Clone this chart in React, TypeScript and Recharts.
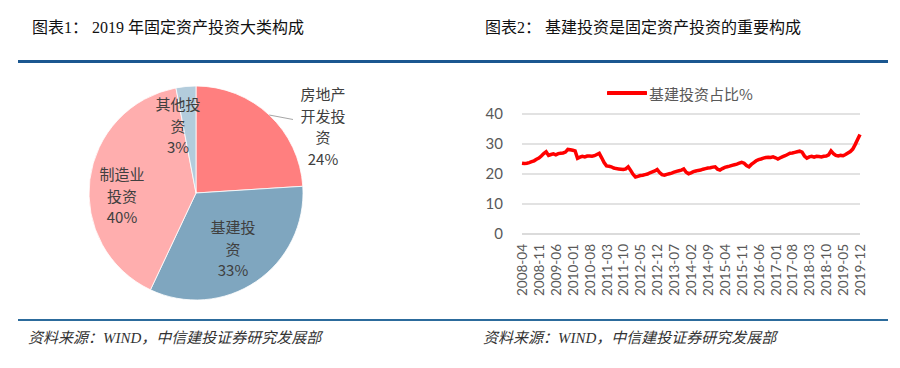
import * as React from "react";
import { PieChart, Pie, Cell, LineChart, Line, XAxis, YAxis, CartesianGrid, Legend } from "recharts";

// 图表1 数据
const pieNames = ["房地产开发投资", "基建投资", "制造业投资", "其他投资"];
const pieValues = [24, 33, 40, 3];
const pieLabelLines = [["房地产", "开发投", "资"], ["基建投", "资"], ["制造业", "投资"], ["其他投", "资"]];
const pieColors = ["#FF7F7F", "#7FA6BF", "#FFAEAE", "#B3CCDC"];

// 图表2 数据 (2008-04 ~ 2019-12, 月度)
const startYear = 2008;
const startMonth = 4;
const infraShare = [
  23.6, 23.5, 23.6, 23.8, 24.1, 24.4, 24.9, 25.3, 26.0, 26.8,
  27.4, 26.2, 26.5, 26.7, 26.4, 26.8, 26.9, 27.0, 27.3, 28.2,
  28.1, 27.9, 27.7, 25.2, 25.6, 25.9, 25.7, 26.0, 26.0, 25.9,
  26.1, 26.5, 26.9, 25.4, 23.8, 22.7, 22.6, 22.4, 22.0, 21.8,
  21.7, 21.6, 21.5, 21.7, 22.4, 21.2, 19.9, 19.0, 19.2, 19.5,
  19.6, 19.8, 20.0, 20.4, 20.7, 21.0, 21.5, 20.5, 19.8, 19.6,
  19.9, 20.1, 20.3, 20.6, 20.9, 21.1, 21.3, 21.7, 20.6, 20.1,
  20.4, 20.8, 21.0, 21.2, 21.3, 21.6, 21.8, 22.0, 22.1, 22.3,
  22.4, 21.6, 21.3, 21.8, 22.2, 22.4, 22.6, 22.9, 23.1, 23.3,
  23.6, 23.9, 23.6, 22.8, 22.4, 23.2, 23.8, 24.4, 24.8, 25.0,
  25.3, 25.5, 25.6, 25.5, 25.7, 25.4, 25.0, 25.4, 25.8, 26.1,
  26.5, 26.9, 27.0, 27.2, 27.4, 27.6, 27.3, 26.0, 25.3, 25.7,
  25.9, 25.6, 25.9, 25.8, 25.7, 25.9, 26.0, 26.4, 27.7, 26.8,
  26.2, 26.0, 26.2, 26.1, 26.5, 27.0, 27.5, 28.3, 29.8, 31.5,
  33.2,
];
const monthLabels = infraShare.map((_, i) => {
  const m = startMonth - 1 + i;
  return `${startYear + Math.floor(m / 12)}-${String((m % 12) + 1).padStart(2, "0")}`;
});
const xTicks = [
  "2008-04", "2008-11", "2009-06", "2010-01", "2010-08", "2011-03", "2011-10",
  "2012-05", "2012-12", "2013-07", "2014-02", "2014-09", "2015-04", "2015-11",
  "2016-06", "2017-01", "2017-08", "2018-03", "2018-10", "2019-05", "2019-12",
];
const yTicks = [0, 10, 20, 30, 40];

const pieData = pieNames.map((name, i) => ({ name, value: pieValues[i] }));
const lineData = monthLabels.map((month, i) => ({ month, share: infraShare[i] }));

// label block offsets from pie centre
const labelLayout = [
  { dx: 127, dy: -67 },
  { dx: 37, dy: 55 },
  { dx: -74, dy: 2 },
  { dx: -18, dy: -68 },
];

const CJK = '"Noto Sans CJK SC", sans-serif';
const NUM = 'Lato, "Noto Sans CJK SC", sans-serif';
const RAD = Math.PI / 180;

const renderPieLabel = (props: any) => {
  const { cx, cy, index, midAngle, outerRadius, value } = props;
  const lay = labelLayout[index];
  const lines = [...pieLabelLines[index], `${value}%`];
  const lh = 21.7;
  const x = cx + lay.dx;
  const y0 = cy + lay.dy - ((lines.length - 1) * lh) / 2;
  const leader =
    index === 0 ? (
      <polyline
        points={`${cx + outerRadius * Math.cos(-midAngle * RAD)},${cy + outerRadius * Math.sin(-midAngle * RAD)} ${x - 30},${y0 + lh * 1.2}`}
        stroke="#A6A6A6"
        strokeWidth={1}
        fill="none"
      />
    ) : null;
  return (
    <g key={`lbl-${index}`}>
      {leader}
      <text x={x} textAnchor="middle" fill="#404040" fontSize={15} fontFamily={CJK}>
        {lines.map((t, i) => (
          <tspan key={i} x={x} y={y0 + i * lh} dominantBaseline="central">
            {t}
          </tspan>
        ))}
      </text>
    </g>
  );
};

const MonthTick = (props: any) => {
  const { x, y, payload } = props;
  return (
    <text
      x={x}
      y={y + 2}
      transform={`rotate(-90, ${x}, ${y + 2})`}
      textAnchor="end"
      dominantBaseline="central"
      fill="#595959"
      fontSize={13.5}
      fontFamily={NUM}
    >
      {payload.value}
    </text>
  );
};

const LegendContent = () => (
  <div style={{ display: "flex", alignItems: "center", height: 24, fontFamily: CJK, fontSize: 15, color: "#595959" }}>
    <svg width={40} height={8}>
      <line x1={1} y1={4} x2={39} y2={4} stroke="#FF0000" strokeWidth={4} strokeLinecap="round" />
    </svg>
    <span style={{ marginLeft: 2 }}>基建投资占比%</span>
  </div>
);

const titleStyle: React.CSSProperties = {
  position: "absolute",
  top: 14,
  fontSize: 16,
  color: "#111",
  fontFamily: '"Liberation Serif", "Noto Sans CJK SC", serif',
  whiteSpace: "nowrap",
};
const sourceStyle: React.CSSProperties = {
  position: "absolute",
  top: 326,
  fontSize: 15,
  color: "#333",
  fontStyle: "italic",
  fontFamily: '"Liberation Serif", "Noto Sans CJK SC", serif',
  whiteSpace: "nowrap",
};

export default function App() {
  return (
    <div style={{ position: "absolute", left: 0, top: 0, width: 900, height: 368, background: "#fff", overflow: "hidden" }}>
      <div style={{ ...titleStyle, left: 32 }}>图表1： 2019 年固定资产投资大类构成</div>
      <div style={{ ...titleStyle, left: 485 }}>图表2： 基建投资是固定资产投资的重要构成</div>
      <div style={{ position: "absolute", left: 18, top: 60, width: 870, height: 2.5, background: "#1B5790" }} />
      <div style={{ position: "absolute", left: 18, top: 318.5, width: 870, height: 2.5, background: "#2C6B9C" }} />
      <div style={{ ...sourceStyle, left: 28 }}>资料来源：WIND，中信建投证券研究发展部</div>
      <div style={{ ...sourceStyle, left: 483 }}>资料来源：WIND，中信建投证券研究发展部</div>

      <div style={{ position: "absolute", left: 0, top: 70 }}>
        <PieChart width={440} height={240} margin={{ top: 0, right: 0, bottom: 0, left: 0 }}>
          <Pie
            data={pieData}
            dataKey="value"
            nameKey="name"
            cx={196}
            cy={123}
            outerRadius={107}
            startAngle={90}
            endAngle={-270}
            stroke="#fff"
            strokeWidth={0.8}
            label={renderPieLabel}
            labelLine={false}
            isAnimationActive={false}
          >
            {pieData.map((d, i) => (
              <Cell key={d.name} fill={pieColors[i]} />
            ))}
          </Pie>
        </PieChart>
      </div>

      <div style={{ position: "absolute", left: 450, top: 70 }}>
        <LineChart width={450} height={234} data={lineData} margin={{ top: 20, right: 40, bottom: 0, left: 0 }}>
          <Legend verticalAlign="top" content={<LegendContent />} wrapperStyle={{ top: 11, left: 157, width: "auto" }} />
          <CartesianGrid vertical={false} stroke="#D9D9D9" strokeWidth={1.5} />
          <XAxis
            dataKey="month"
            ticks={xTicks}
            interval={0}
            tick={<MonthTick />}
            tickLine={false}
            axisLine={{ stroke: "#D9D9D9", strokeWidth: 1.5 }}
            height={70}
          />
          <YAxis
            domain={[0, 40]}
            ticks={yTicks}
            width={72}
            axisLine={false}
            tickLine={false}
            tickMargin={13}
            tick={{ fill: "#595959", fontSize: 15, fontFamily: NUM }}
          />
          <Line
            type="linear"
            dataKey="share"
            stroke="#FF0000"
            strokeWidth={3.5}
            dot={false}
            isAnimationActive={false}
          />
        </LineChart>
      </div>
    </div>
  );
}
